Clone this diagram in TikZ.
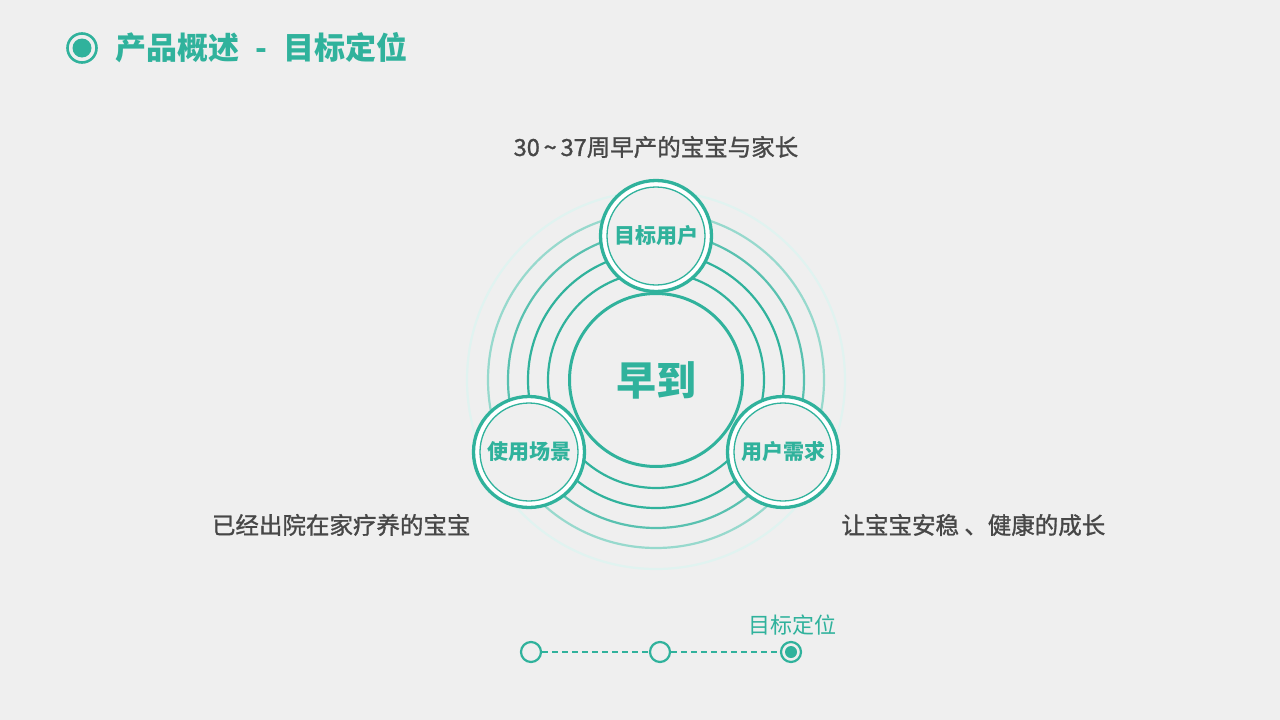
\documentclass[tikz,border=0pt]{standalone}
\usepackage{fontspec}
\setmainfont{Noto Sans CJK SC}
\newfontfamily\capfont[FakeBold=1.2]{Noto Sans CJK SC}
\usetikzlibrary{positioning}
\definecolor{clrTeal}{HTML}{30B29C}
\definecolor{clrBg}{HTML}{EFEFEF}
\definecolor{clrText}{HTML}{474747}

\begin{document}
\begin{tikzpicture}[x=1pt, y=-1pt,
    ring/.style={draw=clrTeal, line width=2.2pt},
    core/.style={circle, draw=clrTeal, fill=clrBg, line width=3pt, minimum size=173pt, inner sep=0pt, font=\fontsize{40}{48}\selectfont\bfseries, text=clrTeal},
    facet/.style={circle, draw=clrTeal, fill=white, line width=3.3pt, minimum size=111pt, inner sep=0pt},
    facetin/.style={circle, draw=clrTeal, fill=clrBg, line width=1.3pt, minimum size=98pt, inner sep=0pt, font=\fontsize{21}{25}\selectfont\bfseries, text=clrTeal},
    caption/.style={font=\capfont\fontsize{23.5}{28}\selectfont, text=clrText},
    title/.style={font=\fontsize{31}{36}\selectfont\bfseries, text=clrTeal},
    stepdot/.style={circle, draw=clrTeal, fill=clrBg, line width=2.2pt, minimum size=20pt, inner sep=0pt},
    stepline/.style={draw=clrTeal, line width=2pt, dash pattern=on 6pt off 4pt},
]

% Page
\fill[clrBg] (0,0) rectangle (1280,720);
\useasboundingbox (0,0) rectangle (1280,720);

% Heading
\node[circle, draw=clrTeal, line width=2.6pt, minimum size=29pt, inner sep=0pt] (mark) at (82,48) {};
\node[circle, fill=clrTeal, minimum size=19pt, inner sep=0pt] (markdot) at (mark.center) {};
\node[title, anchor=west] (head) at (112,48) {产品概述\hspace{16pt}-\hspace{16pt}目标定位};

% Rings round the core
\coordinate (hub) at (656,380);
\draw[ring, draw=clrTeal!15] (hub) circle[radius=189pt];
\draw[ring, draw=clrTeal!50] (hub) circle[radius=168pt];
\draw[ring, draw=clrTeal!80] (hub) circle[radius=148pt];
\draw[ring] (hub) circle[radius=128pt];
\draw[ring] (hub) circle[radius=108pt];

% Core
\node[core] (brand) at (hub) {早到};

% Three facets
\node[facet] (user) at (656,236) {};
\node[facetin] (userin) at (user.center) {目标用户};
\node[facet] (scene) at (529,452) {};
\node[facetin] (scenein) at (scene.center) {使用场景};
\node[facet] (need) at (783,452) {};
\node[facetin] (needin) at (need.center) {用户需求};

% Captions
\node[caption] (usertxt) at (656,147) {30\,\textasciitilde\,37周早产的宝宝与家长};
\node[caption, anchor=east] (scenetxt) at (474,525) {已经出院在家疗养的宝宝};
\node[caption, anchor=west] (needtxt) at (838,525) {让宝宝安稳 、健康的成长};

% Progress
\node[stepdot] (s1) at (531,652) {};
\node[stepdot] (s2) at (660,652) {};
\node[stepdot] (s3) at (791,652) {};
\node[circle, fill=clrTeal, minimum size=12pt, inner sep=0pt] (s3dot) at (s3.center) {};
\draw[stepline] (s1) -- (s2);
\draw[stepline] (s2) -- (s3);
\node[font=\fontsize{22}{26}\selectfont, text=clrTeal] (steptxt) at (792,625) {目标定位};

\end{tikzpicture}
\end{document}
